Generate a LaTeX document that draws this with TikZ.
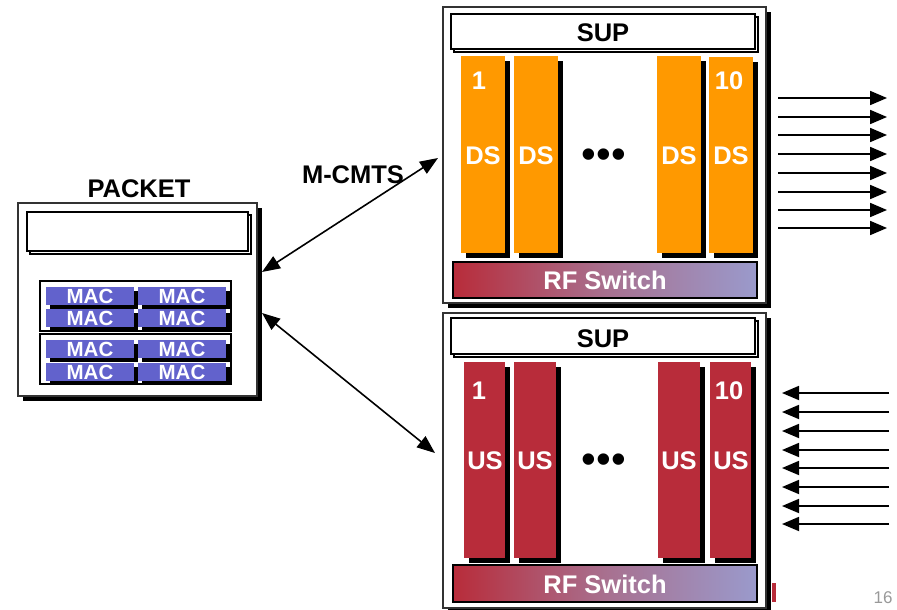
\documentclass[tikz,border=0pt]{standalone}
\usepackage{fontspec}
\setmainfont{Liberation Sans}
\usetikzlibrary{arrows.meta,shadows}
\definecolor{dsorange}{HTML}{FF9900}
\definecolor{usred}{HTML}{B82C3A}
\definecolor{macblue}{HTML}{6262CC}
\definecolor{rflav}{HTML}{9A9ACC}
\definecolor{rfmid}{HTML}{A8708F}

\begin{document}
\begin{tikzpicture}[x=1pt,y=-1pt,
  every node/.style={inner sep=0pt, outer sep=0pt},
  blackshadow/.style={drop shadow={shadow xshift=#1, shadow yshift=-#1, fill=black, opacity=1}},
  chassis/.style={draw=black!80, line width=1.2pt, fill=white, anchor=north west, blackshadow=5pt},
  supbar/.style={draw=black, line width=1.2pt, fill=white, anchor=north west,
    copy shadow={shadow xshift=3pt, shadow yshift=-3pt}},
  linecard/.style={fill=#1, anchor=north west, minimum width=44pt, blackshadow=5pt},
  rfbar/.style={draw=black, line width=1.6pt, anchor=north west, minimum width=304pt,
    left color=usred, right color=rflav, middle color=rfmid},
  macgroup/.style={draw=black, line width=1.2pt, fill=white, anchor=north west,
    minimum width=191pt, minimum height=50pt},
  mac/.style={fill=macblue, anchor=north west, minimum width=88pt, minimum height=18pt,
    text=white, font=\fontsize{20.5}{20}\selectfont\bfseries, blackshadow=4pt},
  bigtext/.style={font=\fontsize{25.5}{25}\selectfont\bfseries},
  cardtext/.style={bigtext, text=white},
  dots/.style={font=\fontsize{42}{42}\selectfont},
  fan/.style={line width=1.8pt, -{Triangle[length=17pt,width=14pt]}},
  link/.style={line width=1.6pt, {Triangle[length=18pt,width=14pt]}-{Triangle[length=18pt,width=14pt]}}
]
\useasboundingbox (0,0) rectangle (897,610);

% ---------- packet card ----------
\node[bigtext] (pktlabel) at (139,189) {PACKET};
\node[chassis, minimum width=239pt, minimum height=193pt] (pkt) at (18,203) {};
\node[supbar, minimum width=221pt, minimum height=39pt] (pkttop) at (27,212) {};
\node[macgroup] (grpa) at (40,281) {};
\node[macgroup] (grpb) at (40,334) {};
\node[mac] (m1) at (46,287) {MAC};
\node[mac] (m2) at (138,287) {MAC};
\node[mac] (m3) at (46,309) {MAC};
\node[mac] (m4) at (138,309) {MAC};
\node[mac] (m5) at (46,340) {MAC};
\node[mac] (m6) at (138,340) {MAC};
\node[mac] (m7) at (46,363) {MAC};
\node[mac] (m8) at (138,363) {MAC};

% ---------- downstream chassis ----------
\node[chassis, minimum width=323pt, minimum height=296pt] (dsbox) at (443,7) {};
\node[supbar, minimum width=304pt, minimum height=35pt] (dssup) at (451,14) {};
\node[bigtext] (dssuplabel) at (603,33) {SUP};
\node[linecard=dsorange, minimum height=197pt] (ds1) at (461,56) {};
\node[linecard=dsorange, minimum height=197pt] (ds2) at (514,56) {};
\node[linecard=dsorange, minimum height=197pt] (ds3) at (657,56) {};
\node[linecard=dsorange, minimum height=196pt] (ds4) at (709,57) {};
\node[cardtext] (ds1n) at (479,81) {1};
\node[cardtext] (ds4n) at (729,81) {10};
\node[cardtext] (ds1t) at (483,156) {DS};
\node[cardtext] (ds2t) at (536,156) {DS};
\node[cardtext] (ds3t) at (679,156) {DS};
\node[cardtext] (ds4t) at (731,156) {DS};
\node[dots] (dsdots) at (604,159) {•••};
\node[rfbar, minimum height=36pt] (dsrf) at (453,262) {};
\node[cardtext] (dsrft) at (605,280) {RF Switch};

% ---------- upstream chassis ----------
\node[chassis, minimum width=323pt, minimum height=295pt] (usbox) at (443,313) {};
\node[supbar, minimum width=304pt, minimum height=36pt] (ussup) at (451,318) {};
\node[bigtext] (ussuplabel) at (603,339) {SUP};
\node[linecard=usred, minimum width=41pt, minimum height=196pt] (us1) at (464,362) {};
\node[linecard=usred, minimum width=42pt, minimum height=196pt] (us2) at (514,362) {};
\node[linecard=usred, minimum width=42pt, minimum height=196pt] (us3) at (658,362) {};
\node[linecard=usred, minimum width=41pt, minimum height=196pt] (us4) at (710,362) {};
\node[cardtext] (us1n) at (479,391) {1};
\node[cardtext] (us4n) at (729,391) {10};
\node[cardtext] (us1t) at (485,461) {US};
\node[cardtext] (us2t) at (535,461) {US};
\node[cardtext] (us3t) at (679,461) {US};
\node[cardtext] (us4t) at (731,461) {US};
\node[dots] (usdots) at (604,464) {•••};
\node[rfbar, minimum height=37pt] (usrf) at (453,565) {};
\node[cardtext] (usrft) at (605,584) {RF Switch};

% small red mark beside the lower chassis
\fill[usred] (772,583) rectangle (776,602);

% ---------- links between the packet card and the chassis ----------
\node[bigtext] (mcmts) at (353,175) {M-CMTS};
\coordinate (pktup) at (262,272);
\coordinate (pktdn) at (262,313);
\coordinate (dsin) at (438,158);
\coordinate (usin) at (435,453);
\draw[link] (pktup) -- (dsin);
\draw[link] (pktdn) -- (usin);

% ---------- RF outputs and inputs ----------
\foreach \i/\y in {1/98,2/117,3/135,4/154,5/173,6/192,7/210,8/228}{
  \coordinate (dso\i) at (778,\y);
  \coordinate (dse\i) at (887,\y);
  \draw[fan] (dso\i) -- (dse\i);
}
\foreach \i/\y in {1/393,2/412,3/431,4/450,5/468,6/487,7/506,8/524}{
  \coordinate (usi\i) at (889,\y);
  \coordinate (use\i) at (782,\y);
  \draw[fan] (usi\i) -- (use\i);
}

% page number
\node[text=black!40, font=\fontsize{17}{17}\selectfont] (pg) at (883,598) {16};
\end{tikzpicture}
\end{document}
